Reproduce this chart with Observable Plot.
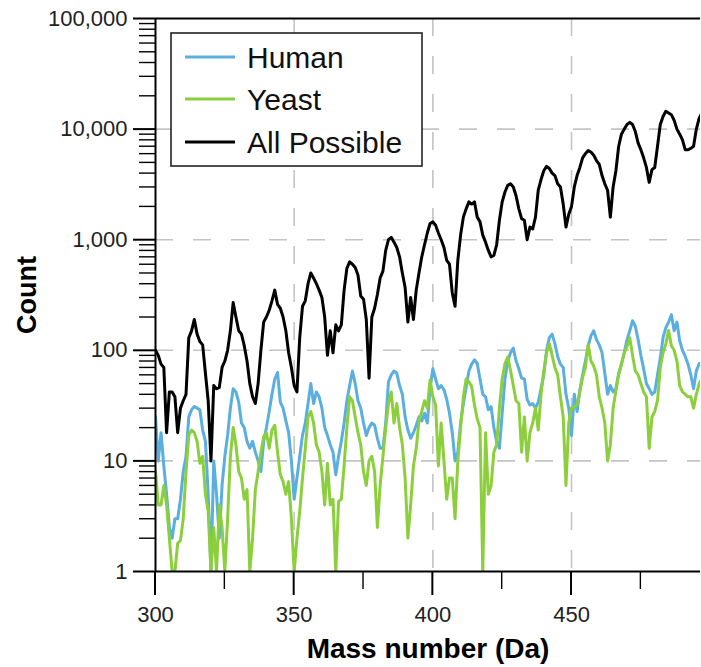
<!DOCTYPE html>
<html>
<head>
<meta charset="utf-8">
<script src="https://cdn.jsdelivr.net/npm/d3@7"></script>
<script src="https://cdn.jsdelivr.net/npm/@observablehq/plot@0.6"></script>
<style>
  html, body { margin: 0; padding: 0; background: #fff; }
  #chart { width: 701px; height: 667px; }
</style>
</head>
<body>
<div id="chart"></div>
<script>
// Mass numbers (Da), one value per Da from 300 to 497
const massStart = 300;
const seriesNames = ["Human", "Yeast", "All Possible"];
const seriesColors = ["#5aafe0", "#8ccf3c", "#000000"];

const human = [
  25,10,18,9,5,2.5,2,3,3,4.5,
  8,11,25,29,31,30,29,19,15,5,
  1,10,5,2,6,11,17,30,45,42,
  34,22,20,15,13,15,12,10,8,15,
  20,28,40,55,63,34,30,23,18,10,
  4.5,7,11,17,22,33,50,33,42,38,
  30,20,17,14,12,7.5,11,15,22,35,
  48,65,50,35,30,22,17,20,22,21,
  16,13,13,22,52,60,65,62,48,40,
  25,19,16,18,21,25,23,27,22,45,
  68,55,45,48,44,36,27,18,10,12,
  22,33,46,65,75,82,76,55,40,38,
  29,31,20,15,13,27,55,80,95,105,
  80,68,56,55,36,32,33,30,34,45,
  60,100,130,140,115,88,75,70,40,30,
  17,40,28,44,60,80,110,135,150,125,
  112,95,62,40,48,42,45,62,75,95,
  125,150,185,165,125,90,68,50,45,40,
  42,60,85,130,160,180,210,150,180,122,
  100,88,75,60,45,65,76,76
];

const yeast = [
  8,4,4,6,4,2,1,1,1.8,1.9,
  3,8,17,19,18,15,9.5,11,5,3.5,
  1,2.5,1,4,2.5,1,3,11,20,14,
  8,7,4.5,5.5,1,2,5.5,8,12,16.5,
  18,13,19,21,12,7.5,6.5,5,6.5,3,
  1,2,3.5,7,13,25,28,22,14,12,
  8,4,9.5,4,4.5,1,4.3,4.5,9,20,
  38,35,25,18,14,8,6,10,11,8,
  2.5,6,11,20,33,42,22,33,20,14,
  7,2,4,9,13,23,28,35,30,54,
  38,32,9,22,10,4.5,7,7,3,10,
  20,38,55,52,47,32,24,20,1,18,
  5,6,12,14,30,55,76,87,66,48,
  35,33,12,25,10,18,22,30,19,40,
  65,95,115,90,70,60,38,25,6,22,
  30,31,32,42,57,70,112,80,72,60,
  38,30,22,10,14,30,43,60,75,95,
  108,130,90,65,60,50,42,38,13,25,
  28,35,70,95,115,151,110,100,80,48,
  42,40,38,38,30,40,50,55
];

const allPossible = [
  100,90,75,70,18,42,42,38,18,30,
  35,40,130,150,190,140,120,112,62,35,
  10,48,45,46,70,80,100,150,270,200,
  150,140,110,80,50,38,33,50,100,180,
  200,230,280,350,260,240,200,150,95,70,
  48,42,130,250,280,400,500,450,400,350,
  300,200,90,150,95,170,150,170,350,550,
  630,600,560,480,310,290,190,56,200,240,
  320,450,520,800,1000,1050,950,850,700,500,
  370,180,300,190,350,500,700,900,1150,1400,
  1450,1350,1150,1000,850,650,600,330,250,650,
  1100,1600,1900,2200,2100,2200,1600,1450,1100,950,
  800,700,720,900,1500,2200,2700,3100,3200,3000,
  2500,1900,1550,1500,1000,1300,1250,1600,2800,3500,
  4200,4600,4400,4000,3800,3200,3000,2100,1300,1700,
  2000,3000,3800,4500,5500,6000,6400,6200,5800,5200,
  4800,3800,3200,2800,1600,3000,4200,7000,9000,10000,
  11000,11500,11000,9500,7500,6500,5500,4500,3300,4300,
  4500,7000,11000,13000,14500,14000,13500,12000,10000,9000,
  8000,6500,6500,6700,7000,10000,12500,14000
];

const xMajorTicks = [300, 350, 400, 450];
const xMinorTicks = [325, 375, 425, 475];
const yMajorTicks = [1, 10, 100, 1000, 10000, 100000];
const yTickLabels = ["1", "10", "100", "1,000", "10,000", "100,000"];
const xGrid = [350, 400, 450];
const yGrid = [10, 100, 1000, 10000];
const yMinorTicks = [];
for (let d = 1; d < 100000; d *= 10) for (let k = 2; k <= 9; k++) yMinorTicks.push(d * k);

const toRows = (arr) => arr.map((v, i) => ({mass: massStart + i, count: v}));
const rowsHuman = toRows(human);
const rowsYeast = toRows(yeast);
const rowsAll = toRows(allPossible);

const W = 701, H = 667, mL = 155, mR = 1, mT = 18, mB = 96;

const font = "'Liberation Sans', Arial, Helvetica, sans-serif";
const gridStyle = {stroke: "#c4c4c4", strokeOpacity: 1, strokeWidth: 1.6, strokeDasharray: "18,20"};

const plot = Plot.plot({
  width: W,
  height: H,
  marginLeft: mL,
  marginRight: mR,
  marginTop: mT,
  marginBottom: mB,
  style: {fontFamily: font, background: "#fff", overflow: "visible"},
  x: {domain: [300, 496.5]},
  y: {type: "log", domain: [1, 100000]},
  marks: [
    Plot.gridY(yGrid, gridStyle),
    Plot.gridX(xGrid, gridStyle),
    Plot.line(rowsAll, {x: "mass", y: "count", stroke: seriesColors[2], strokeWidth: 3, clip: true}),
    Plot.line(rowsHuman, {x: "mass", y: "count", stroke: seriesColors[0], strokeWidth: 3, clip: true}),
    Plot.line(rowsYeast, {x: "mass", y: "count", stroke: seriesColors[1], strokeWidth: 3, clip: true}),
    Plot.ruleY([100000], {stroke: "#000", strokeWidth: 2}),
    Plot.ruleY([1], {stroke: "#000", strokeWidth: 2}),
    Plot.ruleX([300], {stroke: "#000", strokeWidth: 2}),
    Plot.axisY(yMinorTicks, {tickSize: 16, tickFormat: () => "", strokeWidth: 1.4, label: null}),
    Plot.axisY(yMajorTicks, {tickSize: 22, tickPadding: 6, tickFormat: (d) => yTickLabels[yMajorTicks.indexOf(d)], strokeWidth: 2, fontSize: 22, fill: "#222", label: null}),
    Plot.axisX(xMajorTicks, {tickSize: 0, tickPadding: 35, fontSize: 22, fill: "#222", tickFormat: (d) => String(d), label: null}),
    Plot.text(["Count"], {frameAnchor: "left", dx: -128, rotate: -90, textAnchor: "middle", fontSize: 27, fontWeight: "bold", fill: "#000"}),
    Plot.text(["Mass number (Da)"], {frameAnchor: "bottom", dy: 86, lineAnchor: "bottom", textAnchor: "middle", fontSize: 28, fontWeight: "bold", fill: "#000"})
  ]
});

document.getElementById("chart").appendChild(plot);

const svg = d3.select(plot);
const xs = plot.scale("x");
const yBottom = H - mB;

// x tick marks, pointing outward below the axis, placed with Plot's x scale
const tg = svg.append("g").attr("stroke", "#000");
xMajorTicks.forEach((d) => {
  const px = xs.apply(d);
  tg.append("line").attr("x1", px).attr("x2", px).attr("y1", yBottom).attr("y2", yBottom + 24).attr("stroke-width", 2);
});
xMinorTicks.forEach((d) => {
  const px = xs.apply(d);
  tg.append("line").attr("x1", px).attr("x2", px).attr("y1", yBottom).attr("y2", yBottom + 18).attr("stroke-width", 1.4);
});

// Legend box drawn inside the plot area (layout only)
const lg = svg.append("g").attr("font-family", font).attr("text-anchor", "start");
lg.append("rect").attr("x", 171).attr("y", 33).attr("width", 251).attr("height", 133)
  .attr("fill", "#fff").attr("stroke", "#222").attr("stroke-width", 1.6);
const rowY = [57, 99, 142];
seriesNames.forEach((name, i) => {
  lg.append("line").attr("x1", 185).attr("x2", 235).attr("y1", rowY[i]).attr("y2", rowY[i])
    .attr("stroke", seriesColors[i]).attr("stroke-width", 3);
  lg.append("text").attr("x", 247).attr("y", rowY[i]).attr("dy", "0.36em")
    .attr("text-anchor", "start")
    .attr("font-size", 30).attr("fill", "#111").text(name);
});
</script>
</body>
</html>
